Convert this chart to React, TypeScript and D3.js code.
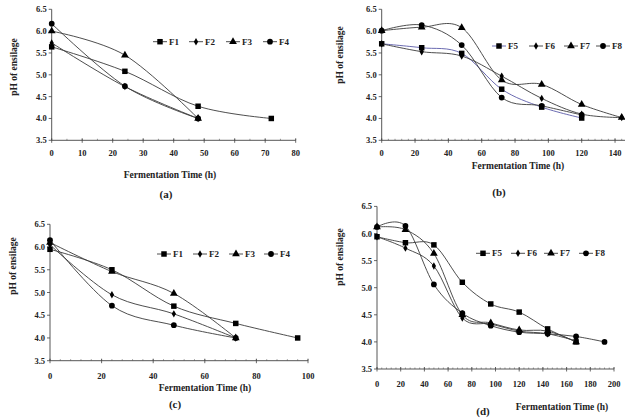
import React from "react";
import * as d3 from "d3";

// ---------- DATA ----------
const timesA = [0, 24, 48, 72];
const aF1 = [5.64, 5.08, 4.28, 4.0];
const aF2 = [5.73, 4.73, 4.0];
const aF3 = [6.0, 5.45, 4.0];
const aF4 = [6.17, 4.74, 4.0];

const timesB = [0, 24, 48, 72, 96, 120, 144];
const bF5 = [5.71, 5.62, 5.49, 4.67, 4.26, 4.01];
const bF6 = [5.71, 5.53, 5.43, 4.97, 4.46, 4.1, 4.02];
const bF7 = [6.01, 6.09, 6.08, 4.88, 4.78, 4.32, 4.02];
const bF8 = [6.01, 6.14, 5.68, 4.48, 4.29, 4.08];

const timesC = [0, 24, 48, 72, 96];
const cF1 = [5.95, 5.5, 4.7, 4.32, 4.0];
const cF2 = [6.05, 4.95, 4.53, 4.0];
const cF3 = [6.1, 5.46, 4.98, 4.0];
const cF4 = [6.15, 4.71, 4.28, 4.0];

const timesD = [0, 24, 48, 72, 96, 120, 144, 168, 192];
const dF5 = [5.94, 5.83, 5.79, 5.1, 4.7, 4.55, 4.24, 4.0];
const dF6 = [5.94, 5.73, 5.4, 4.44, 4.33, 4.2, 4.15, 4.02];
const dF7 = [6.12, 6.07, 5.63, 4.5, 4.35, 4.22, 4.2, 4.0];
const dF8 = [6.12, 6.14, 5.06, 4.53, 4.3, 4.18, 4.15, 4.1, 4.0];

const yTicks = [3.5, 4.0, 4.5, 5.0, 5.5, 6.0, 6.5];
const xTicksA = [0, 10, 20, 30, 40, 50, 60, 70, 80];
const xTicksB = [0, 20, 40, 60, 80, 100, 120, 140];
const xTicksC = [0, 20, 40, 60, 80, 100];
const xTicksD = [0, 20, 40, 60, 80, 100, 120, 140, 160, 180, 200];

const namesA = ["F1", "F2", "F3", "F4"];
const namesB = ["F5", "F6", "F7", "F8"];
const markers = ["square", "diamond", "triangle", "circle"] as const;

const yLabel = "pH of ensilage";
const xLabel = "Fermentation Time (h)";

// ---------- RENDERING ----------
const FONT = "'Liberation Serif', 'Times New Roman', serif";
const LINE = "#3a3a3a";

type Marker = (typeof markers)[number];

function symbolPath(m: Marker) {
  const t =
    m === "square"
      ? d3.symbolSquare
      : m === "diamond"
      ? d3.symbolDiamond
      : m === "triangle"
      ? d3.symbolTriangle
      : d3.symbolCircle;
  const size = m === "square" ? 30 : m === "diamond" ? 16 : m === "triangle" ? 26 : 26;
  return d3.symbol().type(t).size(size)() as string;
}

interface Series {
  name: string;
  x: number[];
  y: number[];
  marker: Marker;
  color?: string;
}

interface PanelProps {
  series: Series[];
  xDomain: [number, number];
  xRange: [number, number];
  yRange: [number, number];
  axisEnd: number;
  xTicks: number[];
  minorStep: number;
  xTickLabelY: number;
  yLabelPos: [number, number];
  xLabelPos: [number, number];
  caption: string;
  captionPos: [number, number];
  legendY: number;
  legendX: number[];
}

function Panel(p: PanelProps) {
  const x = d3.scaleLinear().domain(p.xDomain).range(p.xRange);
  const y = d3.scaleLinear().domain([3.5, 6.5]).range(p.yRange);
  const x0 = p.xRange[0];
  const yb = p.yRange[0];
  const line = d3
    .line<[number, number]>()
    .x((d) => x(d[0]))
    .y((d) => y(d[1]))
    .curve(d3.curveCatmullRom.alpha(0));
  const endVal = x.invert(p.axisEnd);
  const minor = d3.range(0, endVal + 0.001, p.minorStep);
  return (
    <g fontFamily={FONT} fontWeight="bold">
      {/* axes */}
      <line x1={x0} x2={x0} y1={p.yRange[1]} y2={yb} stroke="#444" strokeWidth={0.9} />
      <line x1={x0} x2={p.axisEnd} y1={yb} y2={yb} stroke="#444" strokeWidth={0.9} />
      {yTicks.map((t) => (
        <g key={"y" + t}>
          <line x1={x0 - 3} x2={x0} y1={y(t)} y2={y(t)} stroke="#444" strokeWidth={0.8} />
          <text x={x0 - 5} y={y(t) + 3} fontSize={8.5} textAnchor="end" fill="#222">
            {t.toFixed(1)}
          </text>
        </g>
      ))}
      {minor.map((t) => (
        <line key={"m" + t} x1={x(t)} x2={x(t)} y1={yb - 1.5} y2={yb} stroke="#555" strokeWidth={0.6} />
      ))}
      {p.xTicks.map((t) => (
        <g key={"x" + t}>
          <line x1={x(t)} x2={x(t)} y1={yb - 2} y2={yb + 2.5} stroke="#444" strokeWidth={0.8} />
          <text x={x(t)} y={p.xTickLabelY + 3} fontSize={8.5} textAnchor="middle" fill="#222">
            {t}
          </text>
        </g>
      ))}
      {/* series */}
      {p.series.map((s) => {
        const pts = s.y.map((v, i) => [s.x[i], v] as [number, number]);
        return (
          <g key={s.name}>
            <path d={line(pts) as string} fill="none" stroke={s.color || LINE} strokeWidth={0.9} />
            {pts.map((d, i) => (
              <path key={i} d={symbolPath(s.marker)} transform={`translate(${x(d[0])},${y(d[1])})`} fill="#000" />
            ))}
          </g>
        );
      })}
      {/* legend */}
      {p.series.map((s, i) => {
        const lx = p.legendX[i];
        return (
          <g key={"lg" + s.name}>
            <line x1={lx} x2={lx + 14} y1={p.legendY} y2={p.legendY} stroke={s.color || LINE} strokeWidth={0.9} />
            <path d={symbolPath(s.marker)} transform={`translate(${lx + 7},${p.legendY})`} fill="#000" />
            <text x={lx + 16} y={p.legendY + 3} fontSize={9} fill="#222">
              {s.name}
            </text>
          </g>
        );
      })}
      {/* labels */}
      <text
        transform={`translate(${p.yLabelPos[0]},${p.yLabelPos[1]}) rotate(-90)`}
        textAnchor="middle"
        dominantBaseline="middle"
        fontSize={9.5}
        fill="#222"
      >
        {yLabel}
      </text>
      <text x={p.xLabelPos[0]} y={p.xLabelPos[1] + 3} textAnchor="middle" fontSize={9.5} fill="#222">
        {xLabel}
      </text>
      <text x={p.captionPos[0]} y={p.captionPos[1] + 4} textAnchor="middle" fontSize={11} fill="#222">
        {p.caption}
      </text>
    </g>
  );
}

function mk(names: string[], times: number[], vals: number[][], colors?: (string | undefined)[]): Series[] {
  return names.map((n, i) => ({
    name: n,
    x: times,
    y: vals[i],
    marker: markers[i],
    color: colors ? colors[i] : undefined,
  }));
}

export default function App() {
  return (
    <svg
      width={625}
      height={419}
      style={{ position: "absolute", left: 0, top: 0, background: "#fff" }}
    >
      <rect width={625} height={419} fill="#fff" />
      <Panel
        series={mk(namesA, timesA, [aF1, aF2, aF3, aF4])}
        xDomain={[0, 80]}
        xRange={[51.7, 295.7]}
        yRange={[140.3, 9.3]}
        axisEnd={295.7}
        xTicks={xTicksA}
        minorStep={5}
        xTickLabelY={153}
        yLabelPos={[15, 67]}
        xLabelPos={[170, 175]}
        caption="(a)"
        captionPos={[166, 194]}
        legendY={41.7}
        legendX={[153, 189, 226, 263]}
      />
      <Panel
        series={mk(namesB, timesB, [bF5, bF6, bF7, bF8], ["#5a5aa8", undefined, undefined, undefined])}
        xDomain={[0, 144]}
        xRange={[381.7, 621.7]}
        yRange={[140.3, 9.3]}
        axisEnd={625}
        xTicks={xTicksB}
        minorStep={4}
        xTickLabelY={152.7}
        yLabelPos={[341, 55]}
        xLabelPos={[518, 165.7]}
        caption="(b)"
        captionPos={[499, 191.7]}
        legendY={46}
        legendX={[492, 529, 564, 596]}
      />
      <Panel
        series={mk(namesA, timesC, [cF1, cF2, cF3, cF4])}
        xDomain={[0, 100]}
        xRange={[50, 308]}
        yRange={[360.7, 224.3]}
        axisEnd={308}
        xTicks={xTicksC}
        minorStep={4}
        xTickLabelY={375.7}
        yLabelPos={[13.5, 266]}
        xLabelPos={[205, 387.7]}
        caption="(c)"
        captionPos={[175, 404]}
        legendY={254}
        legendX={[157, 193, 229, 264]}
      />
      <Panel
        series={mk(namesB, timesD, [dF5, dF6, dF7, dF8])}
        xDomain={[0, 200]}
        xRange={[377, 614]}
        yRange={[369, 206.4]}
        axisEnd={614}
        xTicks={xTicksD}
        minorStep={4}
        xTickLabelY={384}
        yLabelPos={[341, 257]}
        xLabelPos={[562, 407]}
        caption="(d)"
        captionPos={[483, 410.5]}
        legendY={253.3}
        legendX={[476, 511, 544, 579]}
      />
    </svg>
  );
}
